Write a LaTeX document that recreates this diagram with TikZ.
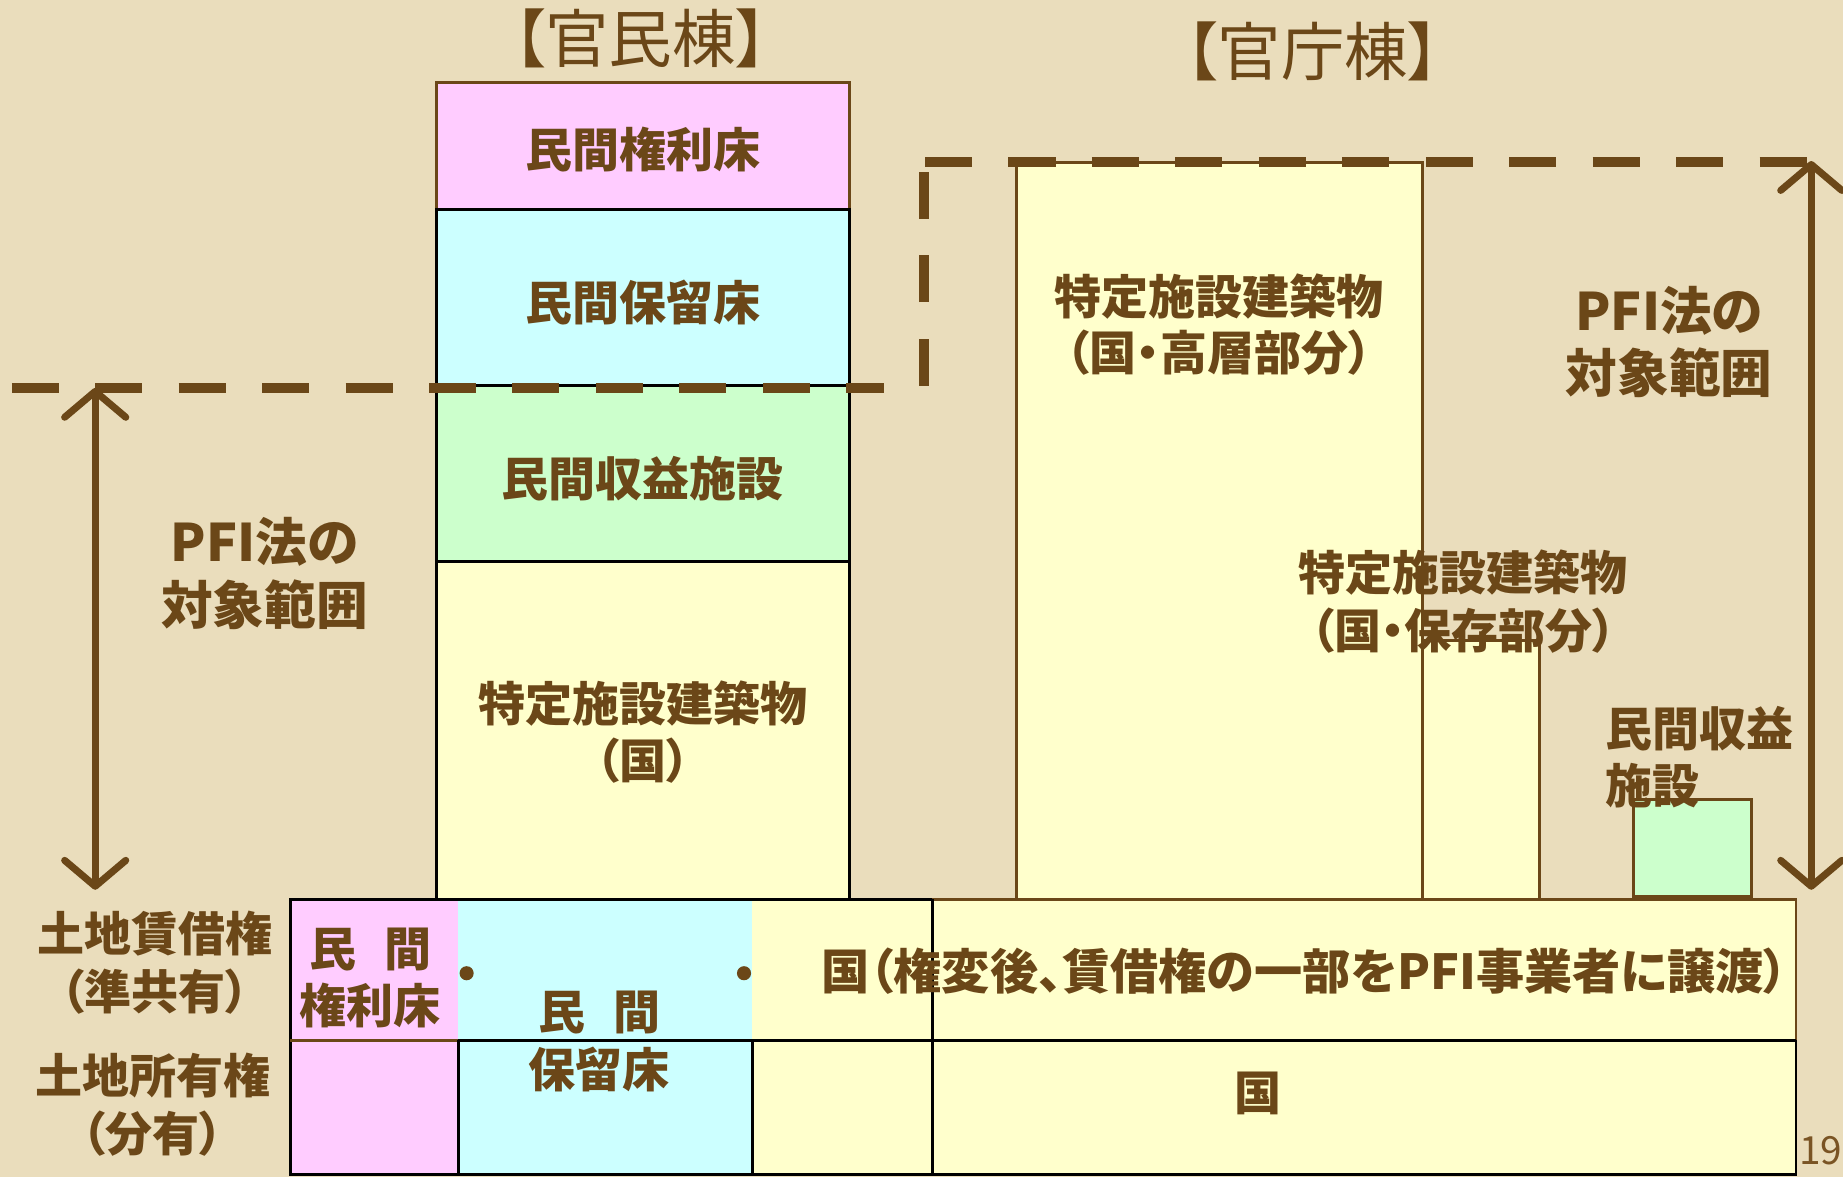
\documentclass[tikz,border=0pt]{standalone}
\usepackage{fontspec}
\setmainfont{Noto Sans CJK JP}[RawFeature=+palt]
\usetikzlibrary{arrows.meta}
\definecolor{bg}{RGB}{234,221,188}
\definecolor{brn}{RGB}{107,71,24}
\definecolor{pinkc}{RGB}{255,204,255}
\definecolor{cyanc}{RGB}{204,255,255}
\definecolor{greenc}{RGB}{204,255,204}
\definecolor{yellc}{RGB}{255,255,204}
\definecolor{pgnum}{RGB}{122,84,36}
\tikzset{
  box/.style={rectangle, inner sep=0pt, line width=2.5pt},
  lbl/.style={text=brn, inner sep=0pt, align=center, font=\bfseries\fontsize{40}{49}\selectfont},
  biglbl/.style={lbl, font=\bfseries\fontsize{44}{53}\selectfont},
  ttl/.style={text=brn, inner sep=0pt, font=\fontsize{54}{58}\selectfont},
  dashln/.style={draw=brn, line width=9pt, dash pattern=on 40pt off 31pt},
  dimarrow/.style={draw=brn, line width=6pt,
    {Straight Barb[length=22pt,width=52pt,round]}-{Straight Barb[length=22pt,width=52pt,round]}},
  blk/.style={draw=black, line width=2.5pt},
  brl/.style={draw=brn, line width=2.5pt},
  bdot/.style={circle, fill=brn, inner sep=0pt, minimum size=12pt},
}
\begin{document}
\begin{tikzpicture}[x=1pt,y=-1pt]
\fill[bg] (0,0) rectangle (1568,1001);
\useasboundingbox (0,0) rectangle (1568,1001);

% titles
\node[ttl] (t1) at (545,33) {【官民棟】};
\node[ttl] (t2) at (1117,44) {【官庁棟】};

% left building (官民棟)
\node[box, draw=brn, fill=pinkc, minimum width=352pt, minimum height=108pt] (kenri) at (547,124) {};
\node[box, draw=black, fill=cyanc, minimum width=352pt, minimum height=150pt] (horyu) at (547,253) {};
\node[box, draw=black, fill=greenc, minimum width=352pt, minimum height=150pt] (shueki) at (547,403) {};
\node[box, draw=black, fill=yellc, minimum width=352pt, minimum height=287pt] (tokutei) at (547,621.5) {};

% right buildings (官庁棟)
\node[box, draw=brn, fill=yellc, minimum width=100pt, minimum height=220pt] (hozon) at (1260,655) {};
\node[box, draw=brn, fill=yellc, minimum width=345pt, minimum height=627pt] (koso) at (1037.5,451.5) {};
\node[box, draw=brn, fill=greenc, minimum width=100pt, minimum height=83pt] (sgreen) at (1440,721.5) {};

% table fills
\node[box, fill=pinkc, minimum width=143pt, minimum height=235pt] (tp) at (318.5,882.5) {};
\node[box, fill=cyanc, minimum width=250pt, minimum height=235pt] (tc) at (515,882.5) {};
\node[box, fill=yellc, minimum width=888pt, minimum height=235pt] (ty) at (1084,882.5) {};

% table lines
\draw[brl] (793,765) -- (1528,765) -- (1528,885);
\draw[blk] (1528,885) -- (1528,999.5) -- (247,999.5) -- (247,765) -- (793,765);
\draw[brl] (247,885) -- (390,885);
\draw[blk] (390,885) -- (1528,885);
\draw[blk] (390,885) -- (390,1000);
\draw[blk] (640,885) -- (640,1000);
\draw[blk] (793,765) -- (793,1000);

% dots
\node[bdot] (d1) at (397,828) {};
\node[bdot] (d2) at (633,828) {};

% dashed scope lines
\coordinate (dA) at (10,330);
\coordinate (dB) at (752,330);
\coordinate (dC) at (786,328);
\coordinate (dD) at (786,145);
\coordinate (dE) at (787,138);
\coordinate (dF) at (1542,138);
\draw[dashln] (dA) -- (dB);
\draw[dashln] (dC) -- (dD);
\draw[dashln] (dE) -- (dF);

% dimension arrows
\coordinate (la1) at (81,330);
\coordinate (la2) at (81,757);
\coordinate (ra1) at (1541,137);
\coordinate (ra2) at (1541,757);
\draw[dimarrow] (la1) -- (la2);
\draw[dimarrow] (ra1) -- (ra2);

% box labels
\node[lbl] (kenritxt) at (547,127) {民間権利床};
\node[lbl] (horyutxt) at (547,257) {民間保留床};
\node[lbl] (shuekitxt) at (547,407) {民間収益施設};
\node[lbl] (tokuteitxt) at (547,623) {特定施設建築物\\（国）};

% labels
\node[biglbl] (pfiL) at (225,488) {PFI法の\\対象範囲};
\node[biglbl] (pfiR) at (1420,291) {PFI法の\\対象範囲};
\node[lbl, text width=300pt, align=center] (kosotxt) at (1037,276) {特定施設建築物\\[-1pt]（国・高層部分）};
\node[lbl, text width=300pt, align=center] (hozontxt) at (1245,512) {特定施設建築物\\（国・保存部分）};
\node[lbl, align=left, anchor=west] (sgtxt) at (1366,644) {民間収益\\施設};

\node[lbl] (rowA) at (132,819) {土地賃借権\\（準共有）};
\node[lbl] (rowB) at (130,940) {土地所有権\\（分有）};

\node[lbl] (c1) at (315,832) {民\hspace{24pt}間\\権利床};
\node[lbl] (c2) at (510,886) {民\hspace{24pt}間\\保留床};
\node[lbl, font=\bfseries\fontsize{41}{49}\selectfont] (c3) at (1110,826) {国（権変後、賃借権の一部をPFI事業者に譲渡）};
\node[lbl] (c4) at (1070,930) {国};

\node[text=pgnum, inner sep=0pt, font=\fontsize{33}{36}\selectfont] (pg) at (1549,979) {19};
\end{tikzpicture}
\end{document}
